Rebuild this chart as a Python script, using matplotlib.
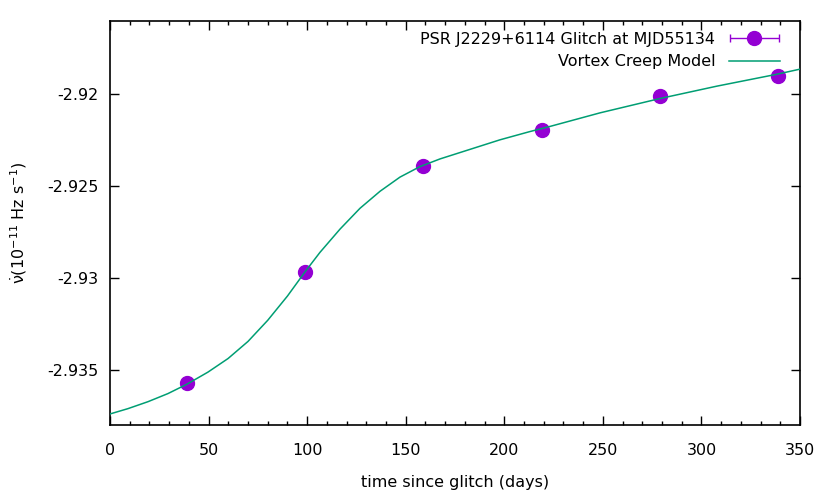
# PSR J2229+6114 glitch recovery with vortex creep model
import matplotlib
matplotlib.use('Agg')
from matplotlib import pyplot as plt
from matplotlib.ticker import MultipleLocator, FormatStrFormatter
from matplotlib.legend_handler import HandlerErrorbar
from matplotlib.container import ErrorbarContainer

# observed nu-dot values after the glitch
obs_days = [39, 99, 159, 219, 279, 339]
obs_nudot = [-2.93574, -2.92967, -2.92391, -2.92192, -2.92007, -2.91897]
obs_err = [0.8, 0.8, 0.8, 0.8, 0.8, 0.8]

# model curve
model_days = [0, 9.1, 19.3, 29.4, 39, 49.7, 59.9, 70, 80, 90, 99, 106.5,
              116.7, 126.8, 137, 147.1, 157.2, 167.4, 182.6, 197.8, 213,
              223.2, 248.6, 279, 307.7, 338.2, 350]
model_nudot = [-2.93740, -2.93711, -2.93673, -2.93629, -2.93578, -2.93512,
               -2.93438, -2.93345, -2.93230, -2.93098, -2.92965, -2.92860,
               -2.92733, -2.92620, -2.92527, -2.92450, -2.92393, -2.92351,
               -2.92299, -2.92247, -2.92202, -2.92174, -2.92100, -2.92022,
               -2.91955, -2.91890, -2.91862]

plt.rcParams['font.family'] = ['DejaVu Sans']
plt.rcParams['font.size'] = 11.5
plt.rcParams['mathtext.default'] = 'regular'

fig = plt.figure(figsize=(8.3, 4.98), dpi=100)
ax = fig.add_axes([0.1325, 0.1466, 0.8314, 0.8112])

# caps are small so they hide inside the markers
eb = ax.errorbar(obs_days, obs_nudot, xerr=obs_err, fmt='o', color='#9400d3',
                 ms=10, capsize=3, elinewidth=1, capthick=1,
                 label='PSR J2229+6114 Glitch at MJD55134', zorder=2)
ln, = ax.plot(model_days, model_nudot, color='#009e73', lw=1.1,
              label='Vortex Creep Model', zorder=3)

ax.set_xlim(0, 350)
ax.set_ylim(-2.938, -2.916)
ax.xaxis.set_major_locator(MultipleLocator(50))
ax.xaxis.set_minor_locator(MultipleLocator(10))
ax.yaxis.set_major_locator(MultipleLocator(0.005))
ax.yaxis.set_major_formatter(FormatStrFormatter('%g'))
ax.tick_params(which='both', direction='in', top=True, right=True, width=1)
ax.tick_params(which='major', length=6.5)
ax.tick_params(which='minor', length=3)
ax.tick_params(axis='x', which='major', pad=13)
ax.tick_params(axis='y', which='major', pad=8)
for s in ax.spines.values():
    s.set_linewidth(1.2)

ax.set_xlabel('time since glitch (days)', labelpad=12)
ax.set_ylabel(r'$\dot{\nu}$(10$^{-11}$ Hz s$^{-1}$)', labelpad=13)

ax.legend([eb, ln], [eb.get_label(), ln.get_label()],
          loc='upper right', bbox_to_anchor=(0.971, 0.973),
          frameon=False, markerfirst=False, borderaxespad=0, borderpad=0,
          handlelength=3.2, handletextpad=0.85, labelspacing=0.45,
          handler_map={ErrorbarContainer: HandlerErrorbar(xerr_size=1.55)})

plt.savefig('out.png', dpi=100)
